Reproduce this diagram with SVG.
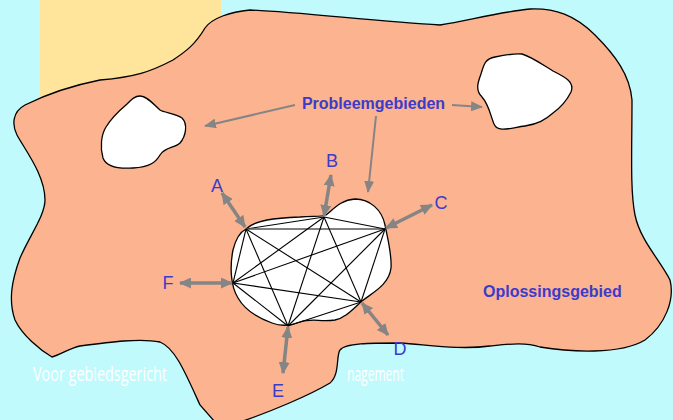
<svg xmlns="http://www.w3.org/2000/svg" width="673" height="420" viewBox="0 0 673 420">
<style>
.lbl{font-family:"Liberation Sans",Arial,sans-serif;font-size:18px;fill:#3b3bcc;text-anchor:middle}
.blbl{font-family:"Liberation Sans",Arial,sans-serif;font-size:16px;font-weight:bold;fill:#3b3bcc}
.wt{font-family:"Open Sans","Liberation Sans",sans-serif;font-size:20px;fill:#ffffff}
.edge{stroke:#000;stroke-width:1.1;fill:none}
.dbl{stroke:#858585;stroke-width:3.5;fill:none;marker-start:url(#hd);marker-end:url(#hd)}
.sgl{stroke:#858585;stroke-width:2;fill:none;marker-end:url(#hs)}
.blob{fill:#fff;stroke:#000;stroke-width:1.3}
</style>
<defs>
<marker id="hd" viewBox="0 0 12 11" refX="11" refY="5.5" markerWidth="12" markerHeight="11" markerUnits="userSpaceOnUse" orient="auto-start-reverse"><path d="M0,0 L12,5.5 L0,11 z" fill="#858585"/></marker>
<marker id="hs" viewBox="0 0 12 10" refX="11" refY="5" markerWidth="12" markerHeight="10" markerUnits="userSpaceOnUse" orient="auto"><path d="M0,0 L12,5 L0,10 z" fill="#858585"/></marker>
</defs>
<rect x="0" y="0" width="673" height="420" fill="#c0fafc"/>
<rect x="40" y="0" width="181" height="110" fill="#ffe59b"/>
<g id="footer">
<text class="wt" x="33" y="381" textLength="134" lengthAdjust="spacingAndGlyphs">Voor gebiedsgericht</text>
<text class="wt" x="347" y="381" textLength="57" lengthAdjust="spacingAndGlyphs">nagement</text>
</g>
<g id="oplossingsgebied">
<path d="M250,10 C230,12 212,18 205,28 C195,45 185,52 173,60 C150,72 135,77 100,80 C70,86 45,95 25,105 C12,112 12,125 17,135 C25,150 45,175 45,200 C45,215 30,235 20,258 C12,280 8,300 15,320 C22,335 40,350 52,357 C60,355 70,348 80,346 C110,342 140,338 160,342 C175,348 185,372 200,405 L215,422 L240,422 C270,412 310,395 330,383 C340,375 336,355 340,350 C345,343 370,343 400,343 C430,345 460,350 490,346 C510,344 525,342 540,347 C570,352 620,355 645,340 C665,325 675,300 670,280 C660,260 640,240 635,215 C630,190 632,150 632,100 C630,75 615,55 595,35 C575,15 555,8 530,9 C500,12 470,20 440,25 C380,22 300,12 250,10 Z" fill="#fcb38f" stroke="#000" stroke-width="1.3"/>
<text class="blbl" x="483" y="297">Oplossingsgebied</text>
</g>
<g id="probleemgebied-links">
<path class="blob" d="M140,96 C147,96 153,104 160,110 C165,113 175,113 182,118 C188,124 186,136 180,143 C175,148 165,147 160,155 C156,162 150,167 133,168 C118,169 106,166 103,158 C100,148 101,135 106,127 C112,117 120,110 127,104 C132,99 135,96 140,96 Z"/>
</g>
<g id="probleemgebied-rechts">
<path class="blob" d="M495,57 C505,55 515,53 522,54 C530,56 540,63 553,71 C565,77 575,82 571,92 C566,102 560,108 553,113 C545,120 538,124 525,126 C510,128 498,133 494,124 C490,114 489,105 482,97 C475,90 478,82 481,74 C484,64 485,59 495,57 Z"/>
</g>
<g id="probleemgebied-midden">
<path class="blob" d="M246,229 C255,220 275,218 300,217 C315,216 322,217 326,215 C333,210 340,200 355,199 C370,199 382,210 385,225 C388,240 392,255 391,268 C389,285 372,293 362,301 C352,310 345,318 335,320 C320,322 312,318 300,322 C290,326 280,326 272,323 C258,318 245,310 238,298 C230,285 230,265 233,250 C236,238 240,232 246,229 Z"/>
<g class="edge">
<line x1="246" y1="229" x2="324" y2="217"/>
<line x1="246" y1="229" x2="385" y2="229" stroke="#555" stroke-width="1.6"/>
<line x1="246" y1="229" x2="361" y2="302"/>
<line x1="246" y1="229" x2="288" y2="326"/>
<line x1="246" y1="229" x2="233" y2="283"/>
<line x1="324" y1="217" x2="385" y2="229"/>
<line x1="324" y1="217" x2="361" y2="302"/>
<line x1="324" y1="217" x2="288" y2="326"/>
<line x1="324" y1="217" x2="233" y2="283"/>
<line x1="385" y1="229" x2="361" y2="302"/>
<line x1="385" y1="229" x2="288" y2="326"/>
<line x1="385" y1="229" x2="233" y2="283"/>
<line x1="361" y1="302" x2="288" y2="326"/>
<line x1="361" y1="302" x2="233" y2="283"/>
<line x1="288" y1="326" x2="233" y2="283"/>
</g>
</g>
<g id="connectors">
<line class="dbl" x1="222" y1="193" x2="245" y2="227"/>
<line class="dbl" x1="331" y1="175" x2="324" y2="216"/>
<line class="dbl" x1="432" y1="205" x2="386" y2="228"/>
<line class="dbl" x1="388" y1="335" x2="362" y2="303"/>
<line class="dbl" x1="283" y1="373" x2="288" y2="327"/>
<line class="dbl" x1="180" y1="283" x2="232" y2="283"/>
<line class="sgl" x1="295" y1="105" x2="205" y2="126"/>
<line class="sgl" x1="452" y1="105" x2="482" y2="107"/>
<line class="sgl" x1="376" y1="116" x2="368" y2="192"/>
</g>
<g id="label-probleemgebieden"><text class="blbl" x="373.5" y="109" text-anchor="middle">Probleemgebieden</text></g>
<g id="label-A"><text class="lbl" x="217" y="192">A</text></g>
<g id="label-B"><text class="lbl" x="332" y="167">B</text></g>
<g id="label-C"><text class="lbl" x="441" y="209">C</text></g>
<g id="label-D"><text class="lbl" x="400" y="355">D</text></g>
<g id="label-E"><text class="lbl" x="278" y="397">E</text></g>
<g id="label-F"><text class="lbl" x="168" y="289">F</text></g>
</svg>
